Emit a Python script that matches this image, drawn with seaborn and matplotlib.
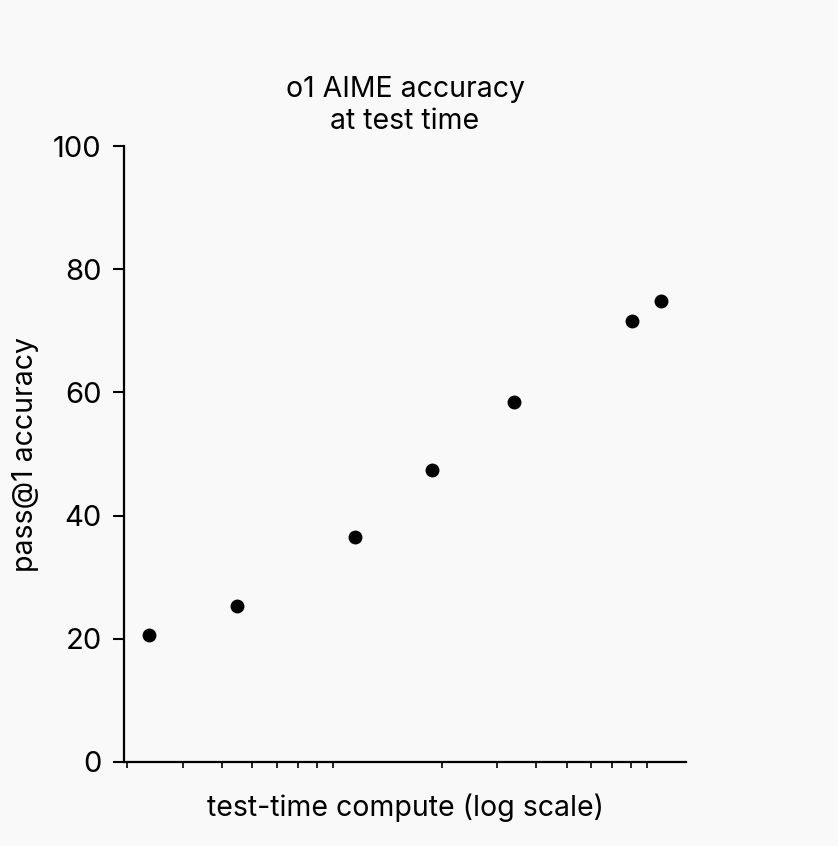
import matplotlib

matplotlib.use("Agg")

import matplotlib.pyplot as plt
import pandas as pd
import seaborn as sns
from matplotlib.ticker import LogLocator, NullLocator, NullFormatter

# values (x is relative compute, log scale)
compute = [2.35, 4.45, 10.6, 18.6, 34.1, 80.5, 99.6]
accuracy = [20.6, 25.3, 36.5, 47.4, 58.4, 71.6, 74.8]
y_ticks = [0, 20, 40, 60, 80, 100]

df = pd.DataFrame({"compute": compute, "accuracy": accuracy})

bg = "#f9f9f9"
sns.set_theme(style="ticks")
plt.rcParams["font.family"] = ["Inter", "DejaVu Sans"]
plt.rcParams["text.color"] = "black"
plt.rcParams["axes.labelcolor"] = "black"

fig = plt.figure(figsize=(8.38, 8.46), dpi=100, facecolor=bg)
ax = fig.add_axes([0.148, 0.0993, 0.6706, 0.7281], facecolor=bg)

sns.scatterplot(data=df, x="compute", y="accuracy", color="black",
                s=100, linewidth=0, ax=ax, zorder=3)

ax.set_xscale("log")
ax.set_xlim(1.95, 120)
ax.set_ylim(0, 100)
ax.set_yticks(y_ticks)

ax.xaxis.set_major_locator(NullLocator())
ax.xaxis.set_minor_locator(LogLocator(base=10, subs=range(2, 10)))
ax.xaxis.set_minor_formatter(NullFormatter())

for side in ["top", "right"]:
    ax.spines[side].set_visible(False)
for side in ["left", "bottom"]:
    ax.spines[side].set_linewidth(1.6)
    ax.spines[side].set_color("black")

ax.tick_params(axis="y", which="major", length=8, width=1.5, colors="black",
               labelsize=21, pad=8)
ax.tick_params(axis="x", which="minor", length=4, width=1.2, colors="black")

ax.set_xlabel("test-time compute (log scale)", fontsize=20.5, labelpad=15,
              color="black")
ax.set_ylabel("pass@1 accuracy", fontsize=20.5, labelpad=10, color="black")
ax.set_title("o1 AIME accuracy\nat test time", fontsize=20.5, pad=12,
             linespacing=1.25, color="black")

fig.savefig("out.png", dpi=100, facecolor=bg)
